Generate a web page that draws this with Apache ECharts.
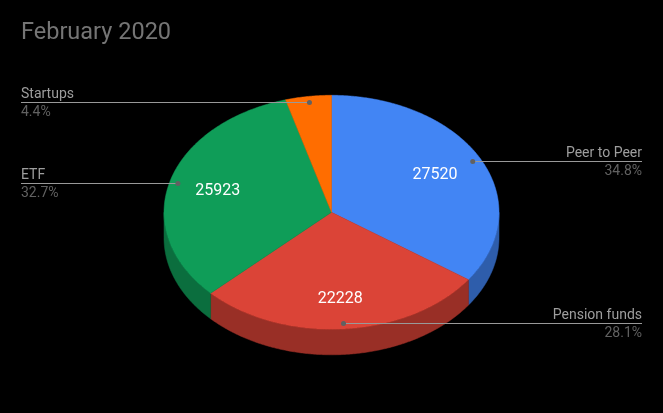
<!DOCTYPE html>
<html>
<head>
<meta charset="utf-8">
<title>February 2020</title>
<script src="https://cdn.jsdelivr.net/npm/echarts@6/dist/echarts.min.js"></script>
<style>
  html, body { margin: 0; padding: 0; background: #000; }
  #canvas { width: 663px; height: 413px; }
</style>
</head>
<body>
<div id="canvas"></div>
<script>
const categories = ["Peer to Peer", "Pension funds", "ETF", "Startups"];
const amounts = [27520, 22228, 25923, 3500];

const topColors = ["#4285f4", "#db4437", "#0f9d58", "#ff6d00"];
const sideColors = ["#2e5dab", "#992f26", "#0b6e3e", "#b24c00"];

const total = amounts.reduce((a, b) => a + b, 0);
const fontName = "Roboto, sans-serif";

// the flattened pie, there is no 3d pie in echarts so it is drawn with custom series
const pie = { cx: 331.5, cy: 212.3, rx: 167.5, ry: 117, depth: 25.5 };

function sliceAngles(index) {
  let before = 0;
  for (let i = 0; i < index; i++) before += amounts[i];
  return [before / total * 360, (before + amounts[index]) / total * 360];
}

// degrees run clockwise from the top of the pie
function rimPoint(deg, factor = 1, drop = 0) {
  const rad = deg * Math.PI / 180;
  return [
    pie.cx + pie.rx * factor * Math.sin(rad),
    pie.cy - pie.ry * factor * Math.cos(rad) + drop
  ];
}

function arcPoints(from, to, drop = 0) {
  const steps = Math.max(2, Math.ceil((to - from) * 2));
  const points = [];
  for (let s = 0; s <= steps; s++) points.push(rimPoint(from + (to - from) * s / steps, 1, drop));
  return points;
}

function renderSide(params) {
  const [start, end] = sliceAngles(params.dataIndex);
  const from = Math.max(start, 90);
  const to = Math.min(end, 270);
  if (to <= from) return null;
  const points = arcPoints(from, to).concat(arcPoints(from, to, pie.depth).reverse());
  const color = sideColors[params.dataIndex];
  return {
    type: "polygon",
    shape: { points },
    style: { fill: color, stroke: color, lineWidth: 0.5 }
  };
}

function renderTop(params) {
  const [start, end] = sliceAngles(params.dataIndex);
  const points = [[pie.cx, pie.cy]].concat(arcPoints(start, end));
  const color = topColors[params.dataIndex];
  return {
    type: "polygon",
    shape: { points },
    style: { fill: color, stroke: color, lineWidth: 0.5 }
  };
}

function renderLabels(params, api) {
  const i = params.dataIndex;
  const [start, end] = sliceAngles(i);
  const mid = (start + end) / 2;
  const value = api.value(0);

  const dot = rimPoint(mid, 0.95);
  const onRight = mid < 180;
  const edge = onRight ? 642 : 21;
  const align = onRight ? "right" : "left";

  // bottom slice gets its number pushed a bit outwards
  const numberPos = rimPoint(mid, 0.7 + 0.04 * Math.max(0, -Math.cos(mid * Math.PI / 180)));

  return {
    type: "group",
    children: [
      {
        type: "line",
        shape: { x1: dot[0], y1: Math.round(dot[1]) + 0.5, x2: edge, y2: Math.round(dot[1]) + 0.5 },
        style: { stroke: "#999999", lineWidth: 1 }
      },
      {
        type: "circle",
        shape: { cx: dot[0], cy: Math.round(dot[1]) + 0.5, r: 2.5 },
        style: { fill: "#616161" }
      },
      {
        type: "text",
        x: edge,
        y: Math.round(dot[1]) - 8,
        style: { text: categories[i], fill: "#9e9e9e", font: "14px " + fontName, align, verticalAlign: "middle" }
      },
      {
        type: "text",
        x: edge,
        y: Math.round(dot[1]) + 10.5,
        style: { text: (value / total * 100).toFixed(1) + "%", fill: "#616161", font: "14px " + fontName, align, verticalAlign: "middle" }
      },
      {
        type: "text",
        x: numberPos[0] - 0.5,
        y: numberPos[1],
        // startups slice is too thin for its number
        style: { text: amounts[i] / total < 0.05 ? "" : String(value), fill: "#fff", font: "16px " + fontName, align: "center", verticalAlign: "middle" }
      }
    ]
  };
}

const myChart = echarts.init(document.getElementById("canvas"));
const option = {
  backgroundColor: "#000",
  animation: false,
  title: {
    text: "February 2020",
    left: 16,
    top: 16,
    textStyle: { color: "#757575", fontFamily: fontName, fontSize: 23.5, fontWeight: "normal" }
  },
  series: [
    { type: "custom", coordinateSystem: "none", silent: true, z: 1, data: amounts, renderItem: renderSide },
    { type: "custom", coordinateSystem: "none", silent: true, z: 2, data: amounts, renderItem: renderTop },
    { type: "custom", coordinateSystem: "none", silent: true, z: 3, data: amounts, renderItem: renderLabels }
  ]
};
myChart.setOption(option);
</script>
</body>
</html>
